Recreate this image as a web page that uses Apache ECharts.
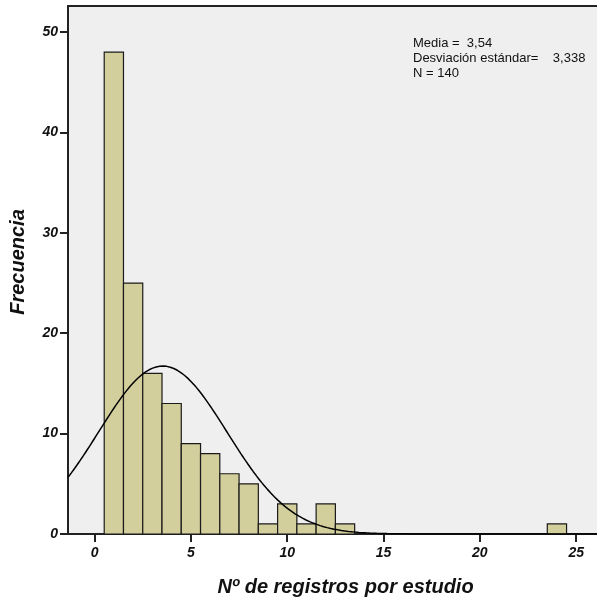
<!DOCTYPE html>
<html>
<head>
<meta charset="utf-8">
<script src="https://cdn.jsdelivr.net/npm/echarts@6/dist/echarts.min.js"></script>
<style>
  html, body { margin: 0; padding: 0; background: #fff; }
  #chart { width: 597px; height: 602px; }
</style>
</head>
<body>
<div id="chart"></div>
<script>
// Histogram of "Nº de registros por estudio" with fitted normal curve
const binCenters = [1, 2, 3, 4, 5, 6, 7, 8, 9, 10, 11, 12, 13, 24];
const frequencies = [48, 25, 16, 13, 9, 8, 6, 5, 1, 3, 1, 3, 1, 1];
const xTicks = [0, 5, 10, 15, 20, 25];
const yTicks = [0, 10, 20, 30, 40, 50];
const mean = 3.54;
const stdDev = 3.338;
const total = 140;
const binWidth = 1;
const xMin = -1.38, xMax = 26.08;
const yMax = 52.6;

// Normal density scaled to counts, using the stated mean, SD and N
const curve = [];
const steps = 300;
for (let i = 0; i <= steps; i++) {
  const x = xMin + (xMax - xMin) * i / steps;
  const z = (x - mean) / stdDev;
  const y = total * binWidth / (stdDev * Math.sqrt(2 * Math.PI)) * Math.exp(-0.5 * z * z);
  curve.push([x, y]);
}

const font = '"Liberation Sans", Arial, sans-serif';
const chart = echarts.init(document.getElementById('chart'), null, { renderer: 'canvas' });

const tickFont = {
  fontFamily: font, fontSize: 14, fontWeight: 'bold', fontStyle: 'italic', color: '#111'
};
const titleFont = {
  fontFamily: font, fontSize: 20, fontWeight: 'bold', fontStyle: 'italic', color: '#111'
};

chart.setOption({
  animation: false,
  backgroundColor: '#ffffff',
  grid: {
    left: 67, right: 0, top: 6, bottom: 62,
    show: true, backgroundColor: '#efefef', borderWidth: 0
  },
  xAxis: [{
    type: 'value',
    min: xMin, max: xMax,
    name: 'Nº de registros por estudio',
    nameLocation: 'middle',
    nameGap: 43,
    nameTextStyle: Object.assign({ padding: [0, 0, 0, 26] }, titleFont),
    axisLine: { show: true, onZero: false, lineStyle: { color: '#222', width: 2 } },
    axisTick: { show: true, length: 8, lineStyle: { color: '#222', width: 2 },
      customValues: xTicks },
    axisLabel: Object.assign({ margin: 12, customValues: xTicks }, tickFont),
    splitLine: { show: false }
  }, {
    // upper frame line
    type: 'value', position: 'top',
    min: xMin, max: xMax,
    axisLine: { show: true, onZero: false, lineStyle: { color: '#222', width: 2 } },
    axisTick: { show: false }, axisLabel: { show: false }, splitLine: { show: false }
  }],
  yAxis: {
    type: 'value',
    min: 0, max: yMax,
    name: 'Frecuencia',
    nameLocation: 'middle',
    nameGap: 40,
    nameRotate: 90,
    nameTextStyle: Object.assign({ padding: [0, 0, 0, 16] }, titleFont),
    axisLine: { show: true, onZero: false, lineStyle: { color: '#222', width: 2 } },
    axisTick: { show: true, length: 8, lineStyle: { color: '#222', width: 2 },
      customValues: yTicks },
    axisLabel: Object.assign({ margin: 10, customValues: yTicks }, tickFont),
    splitLine: { show: false }
  },
  series: [{
    type: 'custom',
    data: binCenters.map((c, i) => [c, frequencies[i]]),
    renderItem: function (params, api) {
      const c = api.value(0), f = api.value(1);
      const p0 = api.coord([c - binWidth / 2, f]);
      const p1 = api.coord([c + binWidth / 2, 0]);
      return {
        type: 'rect',
        shape: { x: p0[0], y: p0[1], width: p1[0] - p0[0], height: p1[1] - p0[1] },
        style: { fill: '#d3cf9c', stroke: '#1a1a1a', lineWidth: 1.2 }
      };
    },
    z: 2
  }, {
    type: 'line',
    data: curve,
    showSymbol: false,
    lineStyle: { color: '#000', width: 1.5 },
    z: 3
  }],
  graphic: [{
    type: 'text',
    left: 413, top: 36,
    style: {
      text: 'Media =  3,54\nDesviación estándar=    3,338\nN = 140',
      font: '13px ' + font,
      fill: '#111',
      lineHeight: 15
    },
    z: 10
  }]
});
</script>
</body>
</html>
